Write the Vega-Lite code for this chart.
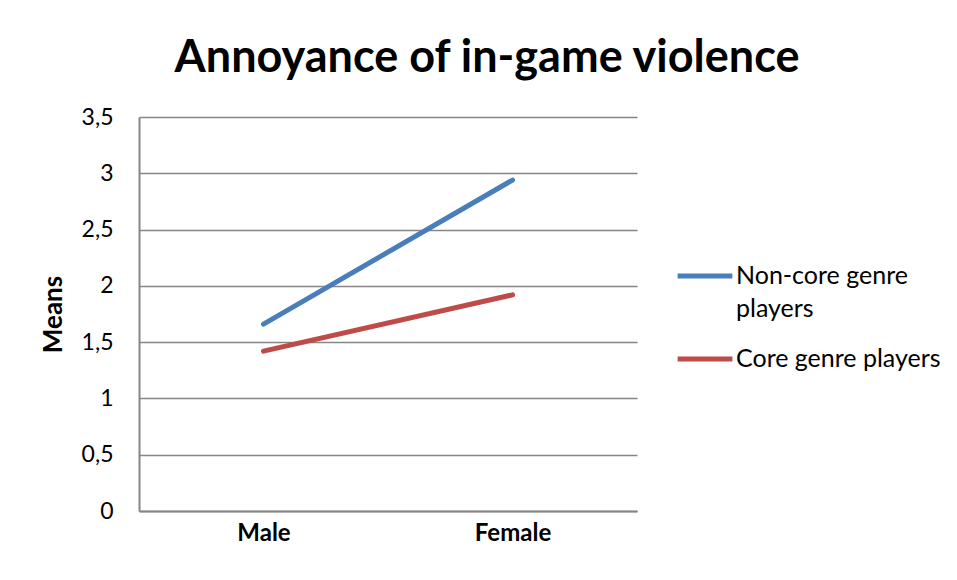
{
  "$schema": "https://vega.github.io/schema/vega-lite/v6.json",
  "autosize": {"type": "none"},
  "width": 498,
  "height": 394,
  "padding": {"left": 139, "top": 117, "right": 320, "bottom": 69},
  "background": "white",
  "title": {
    "text": "Annoyance of in-game violence",
    "font": "Lato",
    "fontSize": 45,
    "fontWeight": "bold",
    "color": "black",
    "anchor": "middle",
    "dx": 99,
    "offset": 25
  },
  "data": {
    "values": [
      {"gender": "Male", "series": "Non-core genre players", "mean": 1.66},
      {"gender": "Female", "series": "Non-core genre players", "mean": 2.94},
      {"gender": "Male", "series": "Core genre players", "mean": 1.42},
      {"gender": "Female", "series": "Core genre players", "mean": 1.92}
    ]
  },
  "mark": {"type": "line", "strokeWidth": 5, "strokeCap": "round"},
  "encoding": {
    "x": {
      "field": "gender",
      "type": "nominal",
      "sort": ["Male", "Female"],
      "scale": {"type": "point", "padding": 0.5},
      "axis": {
        "title": null,
        "labelAngle": 0,
        "labelFont": "Lato",
        "labelFontSize": 24,
        "labelFontWeight": "bold",
        "labelColor": "black",
        "labelPadding": 10,
        "ticks": false,
        "domainColor": "#868686",
        "domainWidth": 2,
        "grid": false,
        "encode": {
          "labels": {
            "update": {
              "dx": {"signal": "datum.value == 'Male' ? 6 : 0"}
            }
          }
        }
      }
    },
    "y": {
      "field": "mean",
      "type": "quantitative",
      "scale": {"domain": [0, 3.5], "nice": false},
      "axis": {
        "title": "Means",
        "titleFont": "Lato",
        "titleFontSize": 26,
        "titleFontWeight": "bold",
        "titleColor": "black",
        "titlePadding": 15,
        "values": [0, 0.5, 1, 1.5, 2, 2.5, 3, 3.5],
        "labelExpr": "replace(format(datum.value, '~g'), '.', ',')",
        "labelFont": "Lato",
        "labelFontSize": 23,
        "labelColor": "black",
        "labelPadding": 26,
        "ticks": false,
        "grid": true,
        "gridColor": "#868686",
        "gridWidth": 1.5,
        "domainColor": "#868686",
        "domainWidth": 2
      }
    },
    "color": {
      "field": "series",
      "type": "nominal",
      "sort": ["Non-core genre players", "Core genre players"],
      "scale": {"domain": ["Non-core genre players", "Core genre players"], "range": ["#4A7EBB", "#BE4B48"]},
      "legend": {
        "title": null,
        "orient": "none",
        "legendX": 536,
        "legendY": 129,
        "symbolType": "stroke",
        "symbolSize": 3000,
        "symbolStrokeWidth": 5,
        "labelFont": "Lato",
        "labelFontSize": 25,
        "labelColor": "black",
        "labelLimit": 0,
        "labelOffset": 1,
        "labelBaseline": "top",
        "rowPadding": 7,
        "labelExpr": "datum.label == 'Non-core genre players' ? ['Non-core genre', 'players'] : datum.label",
        "encode": {
          "labels": {
            "update": {
              "lineHeight": {"value": 33},
              "dy": {"value": -12}
            }
          }
        }
      }
    }
  },
  "config": {"view": {"stroke": null}}
}
